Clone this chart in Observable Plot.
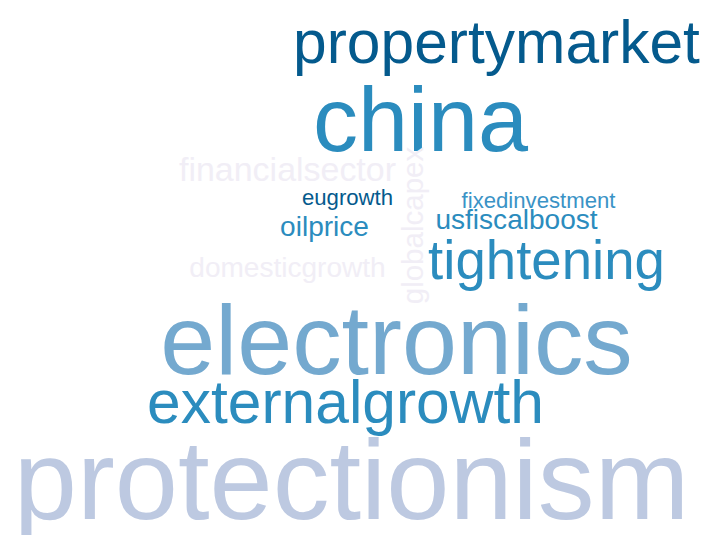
<!DOCTYPE html>
<html>
<head>
<meta charset="utf-8">
<script src="https://cdn.jsdelivr.net/npm/d3@7"></script>
<script src="https://cdn.jsdelivr.net/npm/@observablehq/plot@0.6"></script>
<style>
  html, body { margin: 0; padding: 0; background: #ffffff; }
  #chart { width: 704px; height: 535px; overflow: hidden; }
</style>
</head>
<body>
<div id="chart"></div>
<script>
// Word cloud data
const words = ["protectionism", "electronics", "china", "propertymarket", "externalgrowth", "tightening",
  "financialsector", "globalcapex", "domesticgrowth", "usfiscalboost", "oilprice", "fixedinvestment", "eugrowth"];
const counts = [38, 33, 30, 20, 20, 18, 11, 9.5, 9, 9, 9, 7, 7];
// layout coordinates of each word (centre x, baseline y) in the cloud's 704 x 535 space
const posX = [351, 396, 420, 496, 345, 546, 287, 422, 287, 516, 324, 538, 347];
const posY = [518, 373, 150, 62, 422, 278, 180, 225, 276, 228, 235, 207, 204];
const rotation = [0, 0, 0, 0, 0, 0, 0, -90, 0, 0, 0, 0, 0];
const palette = ["#bdc9e1", "#74a9cf", "#2b8cbe", "#045a8d", "#2b8cbe", "#2b8cbe",
  "#f1eef6", "#f1eef6", "#f1eef6", "#2b8cbe", "#2b8cbe", "#3a93c6", "#045a8d"];

const data = words.map((w, i) => ({
  word: w, count: counts[i], x: posX[i], y: posY[i], rotate: rotation[i], color: palette[i]
}));

const sizeScale = d3.scaleLinear().domain([0, 1]).range([1.5, 4.45]);

const chart = Plot.plot({
  width: 704,
  height: 535,
  margin: 0,
  x: {domain: [0, 704], range: [0, 704], axis: null},
  y: {domain: [0, 535], range: [0, 535], axis: null},
  color: {type: "identity"},
  style: {background: "#ffffff", fontFamily: "'Liberation Sans', Arial, sans-serif"},
  marks: [
    Plot.text(data, {
      x: "x",
      y: "y",
      text: "word",
      fill: "color",
      rotate: "rotate",
      fontSize: d => sizeScale(d.count),
      textAnchor: "middle",
      lineAnchor: "bottom",
      fontFamily: "'Liberation Sans', Arial, sans-serif"
    })
  ]
});
document.getElementById("chart").appendChild(chart);
</script>
</body>
</html>
